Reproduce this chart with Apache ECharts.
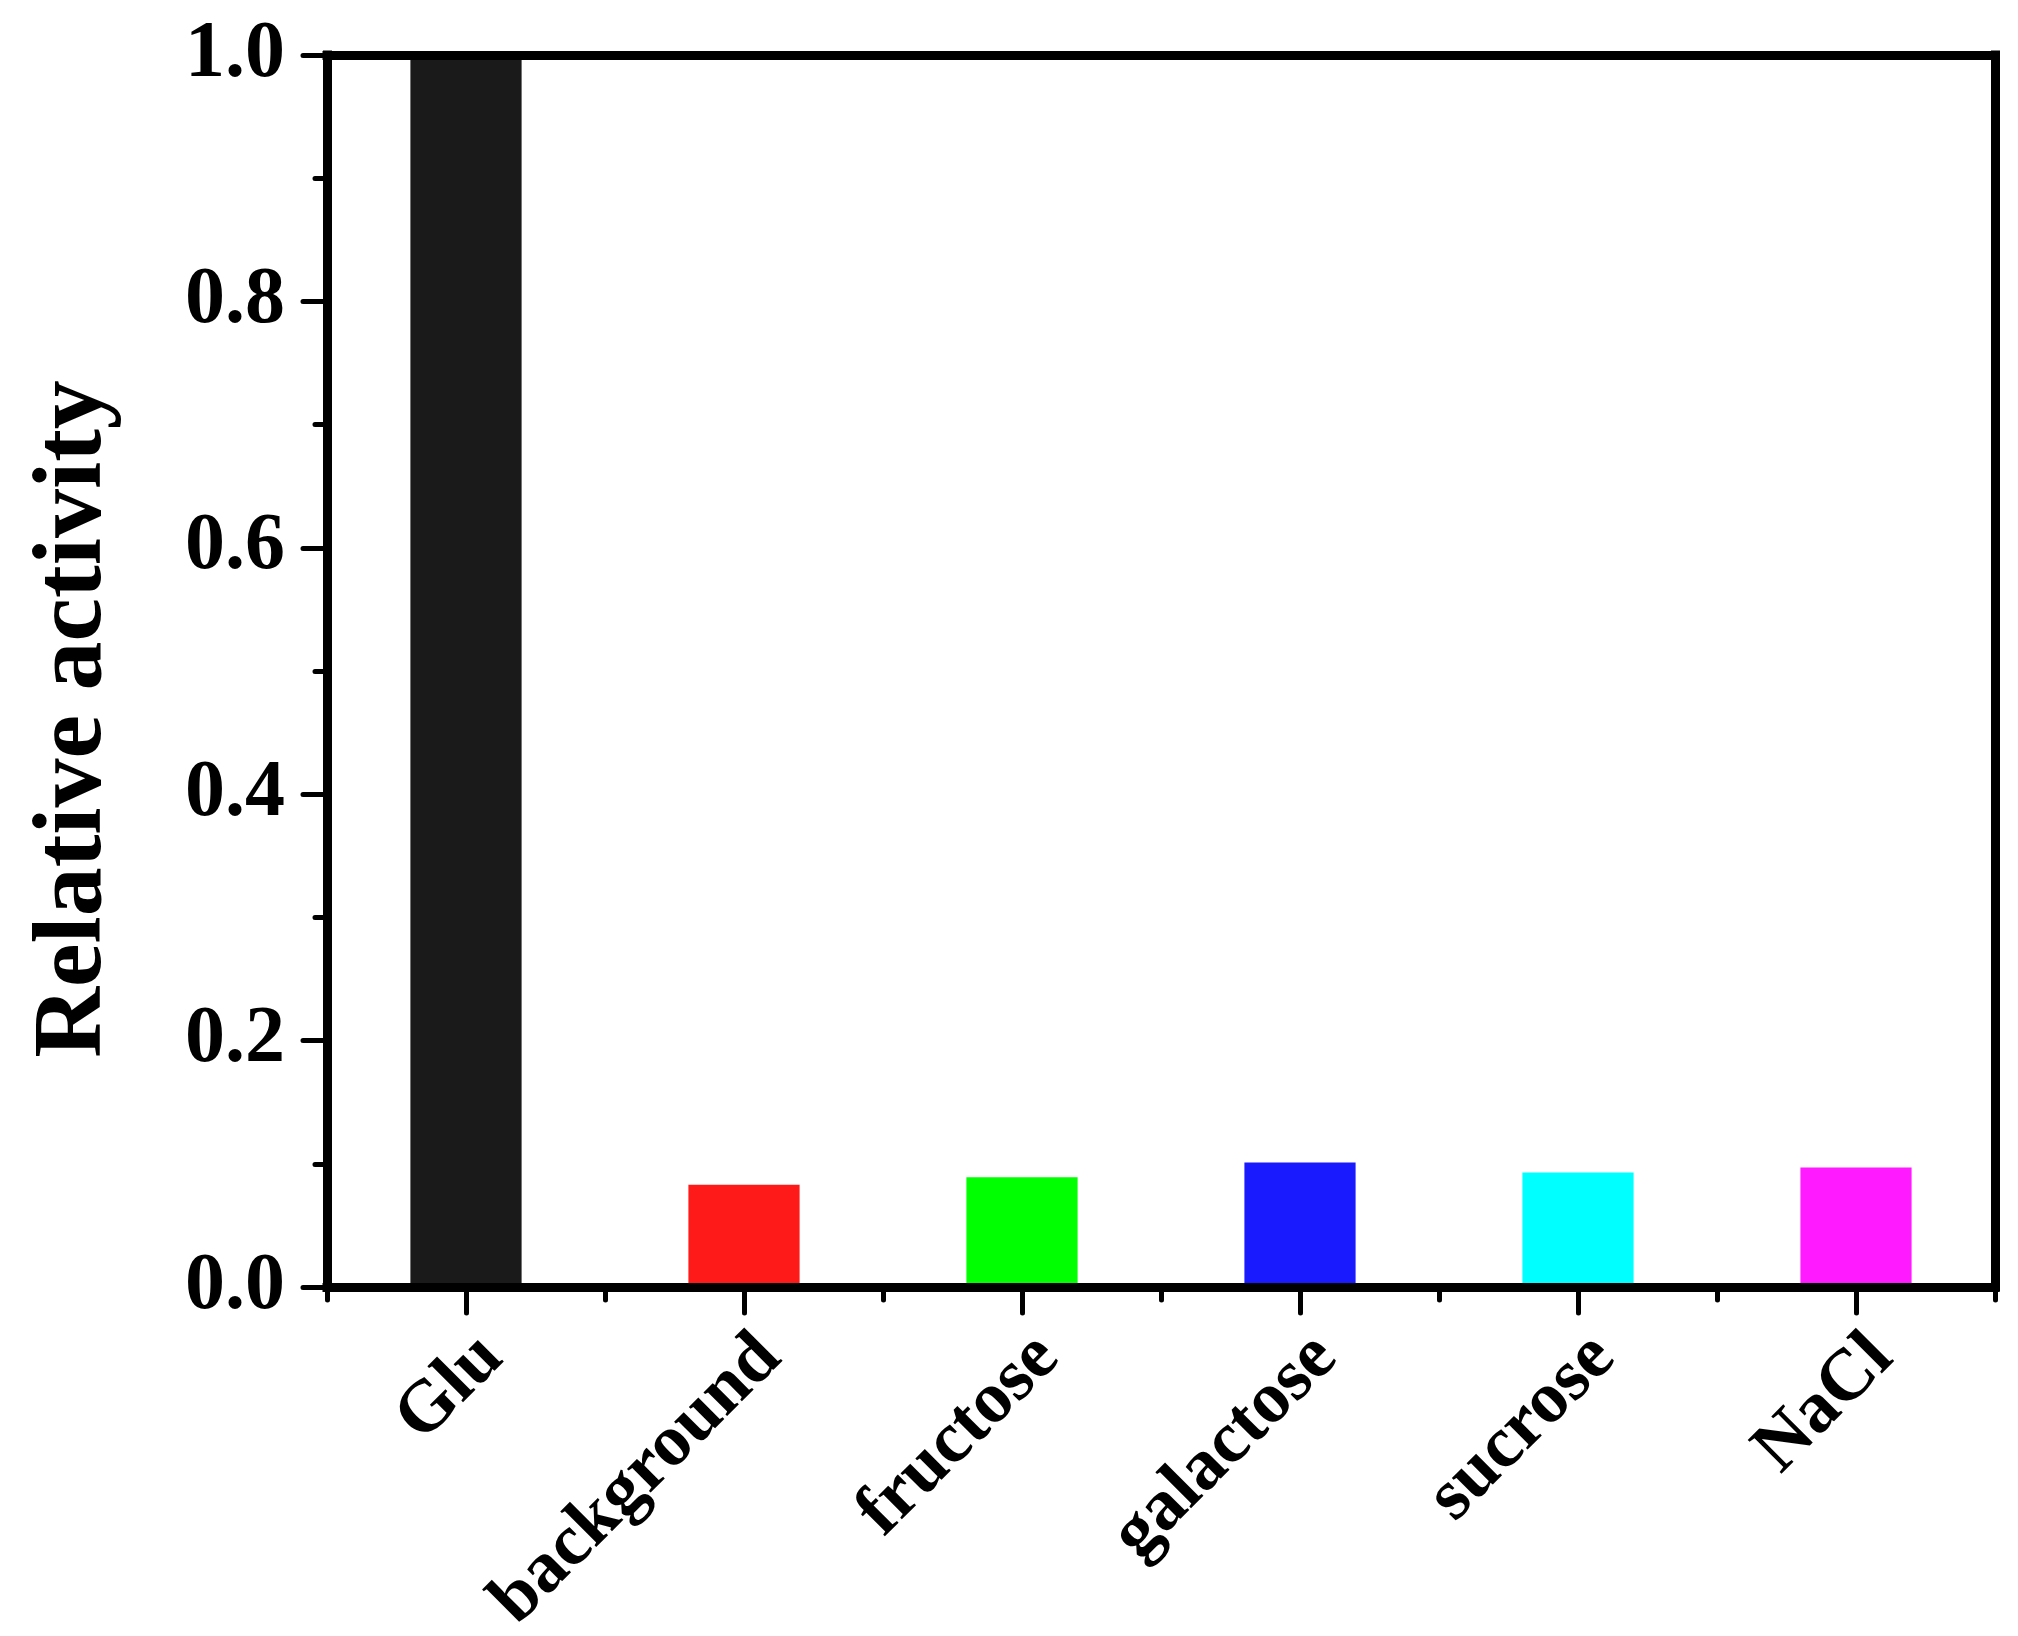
<!DOCTYPE html>
<html>
<head>
<meta charset="utf-8">
<script src="https://cdn.jsdelivr.net/npm/echarts@6/dist/echarts.min.js"></script>
<style>
  html, body { margin: 0; padding: 0; background: #fff; }
  #chart { width: 2018px; height: 1636px; }
</style>
</head>
<body>
<div id="chart"></div>
<script>
// data
const categories = ['Glu', 'background', 'fructose', 'galactose', 'sucrose', 'NaCl'];
const activity = [1.0, 0.083, 0.089, 0.101, 0.093, 0.097];
const barColors = ['#1a1a1a', '#ff1a1a', '#00ff00', '#1a1aff', '#00ffff', '#ff1aff'];

const font = '"Liberation Serif", "Times New Roman", serif';
const black = '#000';

const myChart = echarts.init(document.getElementById('chart'));

const option = {
  backgroundColor: '#fff',
  animation: false,
  grid: {
    left: 327,
    right: 23,
    top: 55,
    bottom: 349,
    containLabel: false,
    outerBoundsMode: 'none'
  },
  xAxis: [
    {
      type: 'category',
      position: 'bottom',
      data: categories,
      z: 3,
      axisLine: { show: true, lineStyle: { color: black, width: 9, cap: 'square' } },
      axisTick: { show: true, alignWithLabel: true, length: 26, lineStyle: { color: black, width: 5, cap: 'round' } },
      axisLabel: {
        rotate: 45,
        margin: 34,
        verticalAlign: 'top',
        color: black,
        fontFamily: font,
        fontWeight: 'bold',
        fontSize: 73
      },
      splitLine: { show: false }
    },
    {
      // short ticks between categories
      type: 'category',
      position: 'bottom',
      data: categories,
      z: 3,
      axisLine: { show: false },
      axisTick: { show: true, length: 13, lineStyle: { color: black, width: 5, cap: 'round' } },
      axisLabel: { show: false },
      splitLine: { show: false }
    },
    {
      // top frame
      type: 'category',
      position: 'top',
      data: categories,
      z: 3,
      axisLine: { show: true, lineStyle: { color: black, width: 9, cap: 'square' } },
      axisTick: { show: false },
      axisLabel: { show: false },
      splitLine: { show: false }
    }
  ],
  yAxis: [
    {
      type: 'value',
      position: 'left',
      min: 0,
      max: 1,
      interval: 0.2,
      z: 3,
      name: 'Relative activity',
      nameLocation: 'middle',
      nameGap: 203,
      nameTextStyle: {
        color: black,
        fontFamily: font,
        fontWeight: 'bold',
        fontSize: 98,
        padding: [0, 96, 0, 0]
      },
      axisLine: { show: true, lineStyle: { color: black, width: 9, cap: 'square' } },
      axisTick: { show: true, length: 24, lineStyle: { color: black, width: 5, cap: 'round' } },
      minorTick: { show: true, splitNumber: 2, length: 12, lineStyle: { color: black, width: 5, cap: 'round' } },
      axisLabel: {
        margin: 42,
        color: black,
        fontFamily: font,
        fontWeight: 'bold',
        fontSize: 80,
        formatter: (v) => v.toFixed(1)
      },
      splitLine: { show: false },
      minorSplitLine: { show: false }
    },
    {
      // right frame
      type: 'value',
      position: 'right',
      min: 0,
      max: 1,
      interval: 0.2,
      z: 3,
      axisLine: { show: true, lineStyle: { color: black, width: 9, cap: 'square' } },
      axisTick: { show: false },
      axisLabel: { show: false },
      splitLine: { show: false }
    }
  ],
  series: [
    {
      type: 'bar',
      xAxisIndex: 0,
      yAxisIndex: 0,
      barWidth: '40%',
      data: activity.map((v, i) => ({ value: v, itemStyle: { color: barColors[i] } })),
      z: 2
    }
  ]
};

myChart.setOption(option);
</script>
</body>
</html>
